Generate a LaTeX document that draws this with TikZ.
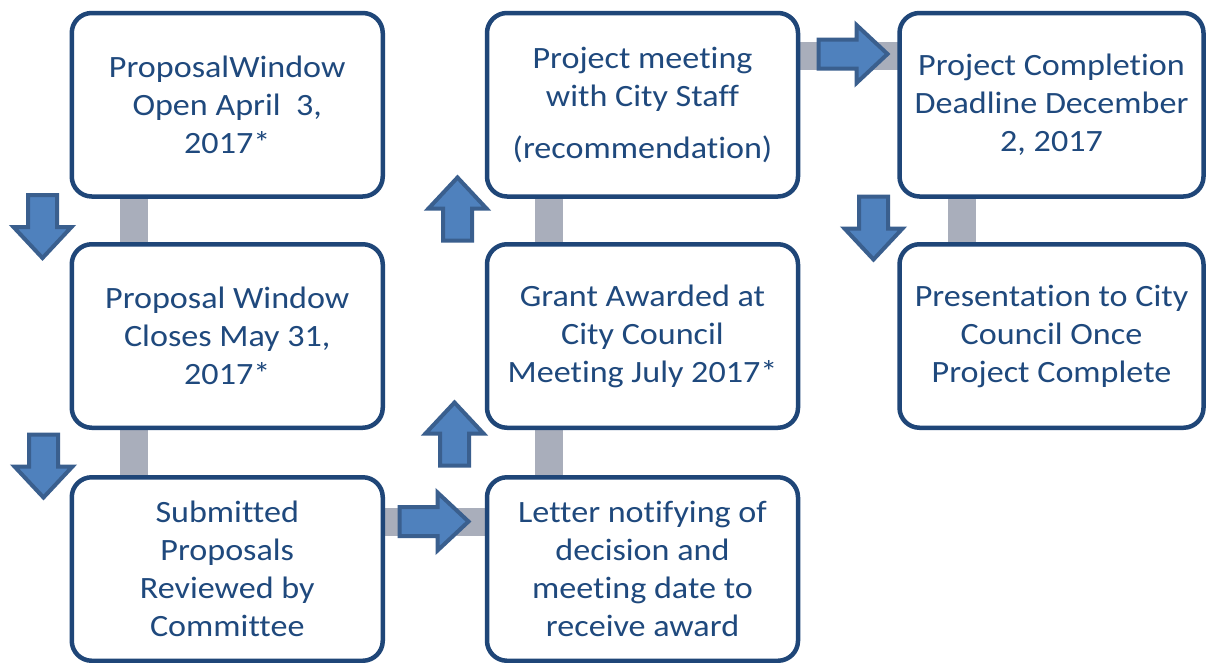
\documentclass[tikz,border=0pt]{standalone}
\usepackage{fontspec}
\setmainfont{Carlito}[FakeStretch=1.1,Ligatures=NoCommon]
\usetikzlibrary{backgrounds,calc}
\definecolor{boxline}{HTML}{1F4678}
\definecolor{boxtext}{HTML}{1F497D}
\definecolor{arrowfill}{HTML}{4F81BD}
\definecolor{arrowline}{HTML}{3A5F8E}
\definecolor{bargray}{RGB}{169,174,187}
\tikzset{
  stepbox/.style={draw=boxline, line width=4.5pt, fill=white, rounded corners=20pt,
    minimum width=311pt, minimum height=183.5pt, inner sep=0pt, outer sep=0pt,
    align=center, text=boxtext, font=\fontsize{31}{38}\selectfont},
  gbar/.style={draw=bargray, line width=28pt},
  arrowst/.style={draw=arrowline, fill=arrowfill, line width=4pt, line join=miter},
  pics/barrow/.style={code={
    \draw[arrowst] (-#1,-14.5) -- (#1-31,-14.5) -- (#1-31,-29) -- (#1,0)
      -- (#1-31,29) -- (#1-31,14.5) -- (-#1,14.5) -- cycle;}}
}
\begin{document}
\begin{tikzpicture}[x=1pt,y=-1pt]
\useasboundingbox (0,0) rectangle (1206,662);
% boxes
\node[stepbox] (b1) at (227.25,104.75) {ProposalWindow\\Open April~ 3,\\2017*};
\node[stepbox] (b2) at (227.25,336) {Proposal Window\\Closes May 31,\\2017*};
\node[stepbox] (b3) at (227.25,569) {Submitted\\Proposals\\Reviewed by\\Committee};
\node[stepbox] (b4) at (642.5,569) {Letter notifying of\\decision and\\meeting date to\\receive award};
\node[stepbox] (b5) at (642.5,336) {Grant Awarded at\\City Council\\Meeting July 2017*};
\node[stepbox] (b6) at (642.5,104.75) {Project meeting\\with City Staff\\[14pt](recommendation)};
\node[stepbox, minimum width=304pt] (b7) at (1051.5,104.75) {Project Completion\\Deadline December\\2, 2017};
\node[stepbox, minimum width=304pt] (b8) at (1051.5,336) {Presentation to City\\Council Once\\Project Complete};
% gray connectors
\begin{scope}[on background layer]
\fill[white] (0,0) rectangle (1206,662);
\draw[gbar] ($(b1.south west)+(62,0)$) -- ($(b2.north west)+(62,0)$);
\draw[gbar] ($(b2.south west)+(62,0)$) -- ($(b3.north west)+(62,0)$);
\draw[gbar] ($(b3.north east)+(0,45)$) -- ($(b4.north west)+(0,45)$);
\draw[gbar] ($(b4.north west)+(62,0)$) -- ($(b5.south west)+(62,0)$);
\draw[gbar] ($(b5.north west)+(62,0)$) -- ($(b6.south west)+(62,0)$);
\draw[gbar] ($(b6.north east)+(0,43)$) -- ($(b7.north west)+(0,43)$);
\draw[gbar] ($(b7.south west)+(62,0)$) -- ($(b8.north west)+(62,0)$);
\end{scope}
% block arrows
\pic[rotate=-90] at (42.5,226.5) {barrow=31.5};
\pic[rotate=-90] at (43.5,466) {barrow=31.5};
\pic at (434,521.5) {barrow=34.5};
\pic[rotate=90] at (454.5,434) {barrow=31.5};
\pic[rotate=90] at (457.5,209) {barrow=31.5};
\pic at (853,54) {barrow=34.5};
\pic[rotate=-90] at (873.5,228) {barrow=31.5};
\end{tikzpicture}
\end{document}
